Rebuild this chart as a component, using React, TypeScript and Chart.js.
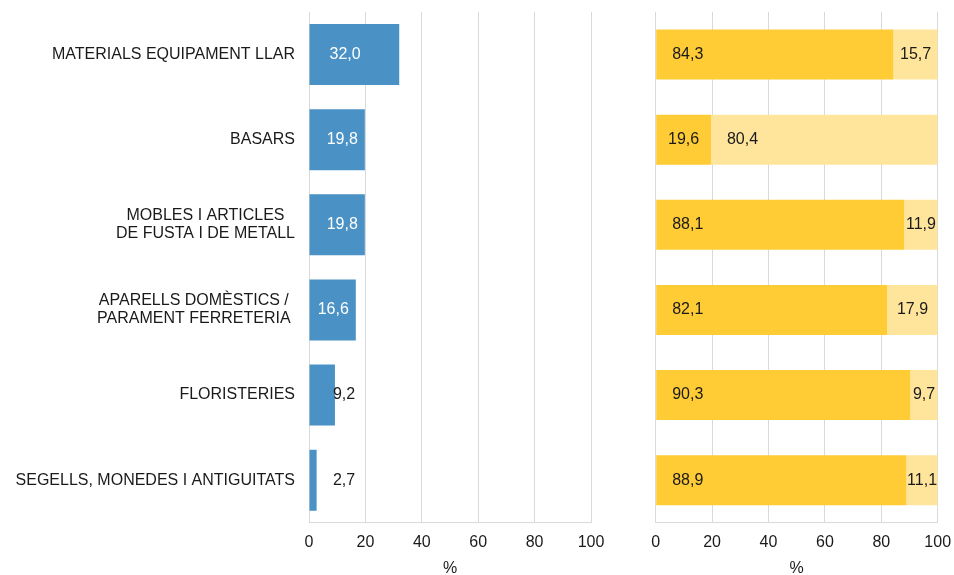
import React, { useEffect, useRef } from 'react';
import { Chart, registerables } from 'chart.js';
Chart.register(...registerables);

// ---------- data ----------
const categories: string[][] = [
  ['MATERIALS EQUIPAMENT LLAR'],
  ['BASARS'],
  ['MOBLES I ARTICLES', 'DE FUSTA I DE METALL'],
  ['APARELLS DOMÈSTICS / ', 'PARAMENT FERRETERIA '],
  ['FLORISTERIES'],
  ['SEGELLS, MONEDES I ANTIGUITATS'],
];
const shareValues = [32.0, 19.8, 19.8, 16.6, 9.2, 2.7];
const darkValues = [84.3, 19.6, 88.1, 82.1, 90.3, 88.9];
const lightValues = [15.7, 80.4, 11.9, 17.9, 9.7, 11.1];
const xMin = 0;
const xMax = 100;
const xStep = 20;
const axisTitle = '%';

// ---------- styles ----------
const FONT = "'Liberation Sans', Arial, sans-serif";
const FONT_SIZE = 16;
const TEXT_COLOR = '#1a1a1a';
const GRID_COLOR = '#d9d9d9';
const BLUE = '#4a92c5';
const DARK_YELLOW = '#ffcc36';
const LIGHT_YELLOW = '#ffe59c';
const CANVAS_H = 578;
const AXIS_H = 55.3;
const LABEL_GAP = 14;
const LINE_H = 18;
const INSIDE_MIN = 12;
const OUTSIDE_LABEL_AT = 8.5;

const fmt = (v: number) => v.toFixed(1).replace('.', ',');
const labelStrings = categories.map((c) => c.map((s) => s.trim()).join(' '));

function xScaleOptions() {
  return {
    type: 'linear' as const,
    min: xMin,
    max: xMax,
    grid: { color: GRID_COLOR, lineWidth: 1, drawTicks: false },
    border: { display: true, color: GRID_COLOR, width: 1 },
    ticks: {
      stepSize: xStep,
      padding: 10,
      color: TEXT_COLOR,
      font: { family: FONT, size: FONT_SIZE },
      callback: (v: any) => String(v),
    },
    title: {
      display: true,
      text: axisTitle,
      color: TEXT_COLOR,
      font: { family: FONT, size: FONT_SIZE },
      padding: { top: 0, bottom: 0 },
    },
    afterFit: (s: any) => {
      s.height = AXIS_H;
    },
  };
}

const yLabelPlugin = {
  id: 'yLabels',
  afterDraw(chart: any) {
    const ctx = chart.ctx;
    const ys = chart.scales.y;
    const right = chart.chartArea.left - LABEL_GAP;
    ctx.save();
    ctx.font = `${FONT_SIZE}px ${FONT}`;
    ctx.fillStyle = TEXT_COLOR;
    ctx.textBaseline = 'middle';
    ctx.textAlign = 'center';
    categories.forEach((lines, i) => {
      const cy = ys.getPixelForValue(i);
      const bw = Math.max(...lines.map((l) => ctx.measureText(l).width));
      const cx = right - bw / 2;
      lines.forEach((l, j) => {
        ctx.fillText(l, cx, cy + (j - (lines.length - 1) / 2) * LINE_H);
      });
    });
    ctx.restore();
  },
};

const leftLabelPlugin = {
  id: 'leftLabels',
  afterDatasetsDraw(chart: any) {
    const ctx = chart.ctx;
    const xs = chart.scales.x;
    const meta = chart.getDatasetMeta(0);
    ctx.save();
    ctx.font = `${FONT_SIZE}px ${FONT}`;
    ctx.textBaseline = 'middle';
    ctx.textAlign = 'left';
    meta.data.forEach((bar: any, i: number) => {
      const v = shareValues[i];
      const text = fmt(v);
      const w = ctx.measureText(text).width;
      const { x, y, base } = bar.getProps(['x', 'y', 'base'], true);
      if (v >= INSIDE_MIN) {
        let start = base + 20;
        if (start + w > x - 7) start = x - 7 - w;
        ctx.fillStyle = '#ffffff';
        ctx.fillText(text, start, y);
      } else {
        ctx.fillStyle = TEXT_COLOR;
        ctx.fillText(text, xs.getPixelForValue(OUTSIDE_LABEL_AT), y);
      }
    });
    ctx.restore();
  },
};

const rightLabelPlugin = {
  id: 'rightLabels',
  afterDatasetsDraw(chart: any) {
    const ctx = chart.ctx;
    ctx.save();
    ctx.font = `${FONT_SIZE}px ${FONT}`;
    ctx.textBaseline = 'middle';
    ctx.fillStyle = TEXT_COLOR;
    const series = [darkValues, lightValues];
    series.forEach((vals, d) => {
      const meta = chart.getDatasetMeta(d);
      meta.data.forEach((bar: any, i: number) => {
        const text = fmt(vals[i]);
        const w = ctx.measureText(text).width;
        const { x, y, base } = bar.getProps(['x', 'y', 'base'], true);
        const segW = x - base;
        const pad = 16;
        if (w + 2 * pad <= segW) {
          ctx.textAlign = 'left';
          ctx.fillText(text, base + pad, y);
        } else {
          ctx.textAlign = 'center';
          ctx.fillText(text, (base + x) / 2, y);
        }
      });
    });
    ctx.restore();
  },
};

export default function App() {
  const leftRef = useRef<HTMLCanvasElement>(null);
  const rightRef = useRef<HTMLCanvasElement>(null);

  useEffect(() => {
    const left = new Chart(leftRef.current!, {
      type: 'bar',
      data: {
        labels: labelStrings,
        datasets: [
          {
            data: shareValues,
            backgroundColor: BLUE,
            borderWidth: 0,
            barPercentage: 0.717,
            categoryPercentage: 1,
          },
        ],
      },
      options: {
        indexAxis: 'y',
        responsive: false,
        animation: false,
        layout: { padding: { left: 309, right: 29, top: 12, bottom: 0 } },
        plugins: { legend: { display: false }, tooltip: { enabled: false } },
        scales: {
          x: xScaleOptions() as any,
          y: { type: 'category', display: false, offset: true },
        },
      },
      plugins: [yLabelPlugin, leftLabelPlugin],
    });

    const right = new Chart(rightRef.current!, {
      type: 'bar',
      data: {
        labels: labelStrings,
        datasets: [
          {
            data: darkValues,
            backgroundColor: DARK_YELLOW,
            borderWidth: 0,
            barPercentage: 0.5875,
            categoryPercentage: 1,
          },
          {
            data: lightValues,
            backgroundColor: LIGHT_YELLOW,
            borderWidth: 0,
            barPercentage: 0.5875,
            categoryPercentage: 1,
          },
        ],
      },
      options: {
        indexAxis: 'y',
        responsive: false,
        animation: false,
        layout: { padding: { left: 35.7, right: 32.3, top: 12, bottom: 0 } },
        plugins: { legend: { display: false }, tooltip: { enabled: false } },
        scales: {
          x: { ...(xScaleOptions() as any), stacked: true },
          y: { type: 'category', display: false, offset: true, stacked: true },
        },
      },
      plugins: [rightLabelPlugin],
    });

    return () => {
      left.destroy();
      right.destroy();
    };
  }, []);

  return (
    <div
      style={{
        position: 'fixed',
        left: 0,
        top: 0,
        width: 954,
        height: 575,
        overflow: 'hidden',
        background: '#ffffff',
      }}
    >
      <canvas
        ref={leftRef}
        width={620}
        height={CANVAS_H}
        style={{ position: 'absolute', left: 0, top: 0, display: 'block' }}
      />
      <canvas
        ref={rightRef}
        width={350}
        height={CANVAS_H}
        style={{ position: 'absolute', left: 620, top: 0, display: 'block' }}
      />
    </div>
  );
}
